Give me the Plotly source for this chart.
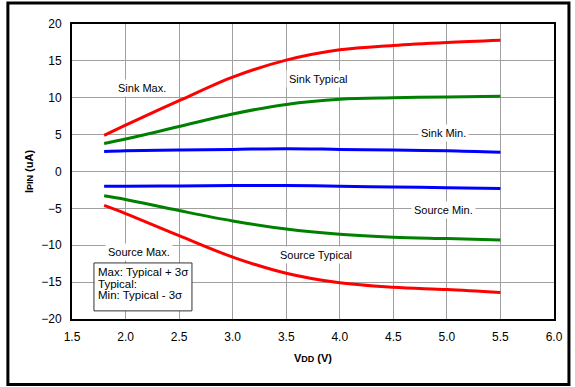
import plotly.graph_objects as go

vdd = [1.8, 2.0, 2.5, 3.0, 3.5, 4.0, 4.5, 5.0, 5.5]

sink_max = [4.9, 6.3, 9.6, 12.8, 15.1, 16.5, 17.1, 17.5, 17.8]
sink_typ = [3.8, 4.4, 6.1, 7.8, 9.1, 9.8, 10.0, 10.1, 10.2]
sink_min = [2.7, 2.8, 2.9, 3.0, 3.1, 3.0, 2.9, 2.8, 2.6]
source_min = [-2.0, -2.0, -1.95, -1.9, -1.9, -2.0, -2.1, -2.2, -2.3]
source_typ = [-3.3, -3.8, -5.3, -6.7, -7.8, -8.5, -8.9, -9.1, -9.3]
source_max = [-4.6, -5.7, -8.7, -11.6, -13.8, -15.1, -15.7, -16.0, -16.4]

labels = ["Sink Max.", "Sink Typical", "Sink Min.", "Source Min.", "Source Typical", "Source Max."]
label_x = [2.15, 3.8, 4.97, 4.97, 3.78, 2.13]
label_y = [11.3, 12.6, 5.2, -5.2, -11.3, -10.9]

note_lines = ["Max: Typical + 3σ", "Typical:", "Min: Typical - 3σ"]
note_y = [-13.6, -15.2, -16.8]

series = [
    (sink_max, "red"),
    (sink_typ, "green"),
    (sink_min, "blue"),
    (source_min, "blue"),
    (source_typ, "green"),
    (source_max, "red"),
]

fig = go.Figure()
for ys, color in series:
    fig.add_trace(go.Scatter(x=vdd, y=ys, mode="lines", line=dict(color=color, width=3, shape="spline"),
                             showlegend=False, hoverinfo="skip"))

for text, lx, ly in zip(labels, label_x, label_y):
    fig.add_annotation(x=lx, y=ly, text=text, showarrow=False, bgcolor="white",
                       font=dict(size=11, color="black"), borderpad=2)

# legend note box
fig.add_shape(type="rect", x0=1.705, x1=2.62, y0=-18.9, y1=-12.4,
              fillcolor="white", line=dict(color="#333", width=1), layer="above")
for text, ny in zip(note_lines, note_y):
    fig.add_annotation(x=1.722, y=ny, xanchor="left", text=text, showarrow=False,
                       font=dict(size=11.5, color="black"))

# outer frame
fig.add_shape(type="rect", xref="paper", yref="paper", x0=-0.133, x1=1.031, y0=-0.222, y1=1.071,
              line=dict(color="black", width=3), layer="below")

fig.update_layout(
    width=575, height=387,
    margin=dict(l=72, r=21, t=24, b=68),
    plot_bgcolor="white", paper_bgcolor="white",
    font=dict(family="Liberation Sans, Arial, sans-serif", size=12, color="black"),
)
fig.update_xaxes(range=[1.5, 6.0], dtick=0.5, tickformat=".1f", showgrid=True, gridcolor="#a0a0a0",
                 gridwidth=1, showline=True, linecolor="black", linewidth=2, mirror=True, ticks="",
                 zeroline=False, ticklabelstandoff=6,
                 title=dict(text="<b>V<span style='font-size:9px'>DD</span> (V)</b>", font=dict(size=11), standoff=11))
fig.update_yaxes(range=[-20, 20], dtick=5, showgrid=True, gridcolor="#a0a0a0", gridwidth=1,
                 showline=True, linecolor="black", linewidth=2, mirror=True, ticks="",
                 zeroline=False, ticklabelstandoff=6,
                 title=dict(text="<b>I<span style='font-size:9px'>PIN</span> (uA)</b>", font=dict(size=11), standoff=5))

fig.write_html("out.html", config={"displayModeBar": False},
               post_script="document.body.style.margin='0';")
